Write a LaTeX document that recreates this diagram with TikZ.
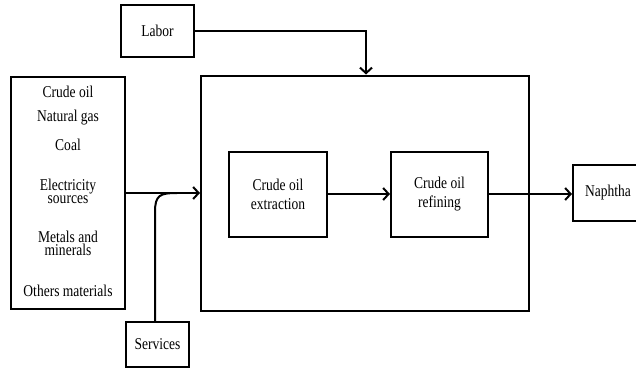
\documentclass[tikz,border=0pt]{standalone}
\usepackage{fontspec}
\setmainfont[FakeStretch=0.82]{Liberation Serif}
\usetikzlibrary{arrows.meta}
\begin{document}
\begin{tikzpicture}[x=1pt,y=-1pt,
  box/.style={draw,line width=2pt,inner sep=0pt,align=center,font=\fontsize{16.5}{19}\selectfont},
  txt/.style={inner sep=0pt,align=center,font=\fontsize{16.5}{13}\selectfont},
  conn/.style={line width=2pt,-{Straight Barb[length=5.5pt,width=12pt,line width=2pt]}}]
\useasboundingbox (0,0) rectangle (636,369);
\node[box,minimum width=73pt,minimum height=52pt] (labor) at (157.5,31) {Labor};
\node[box,minimum width=114pt,minimum height=232pt] (inputs) at (68,193) {};
\node[box,minimum width=328pt,minimum height=235pt] (main) at (365,193) {};
\node[box,minimum width=63pt,minimum height=45pt] (services) at (157.5,344.5) {Services};
\node[box,minimum width=98pt,minimum height=85pt] (extr) at (278,194) {Crude oil\\extraction};
\node[box,minimum width=97pt,minimum height=85pt] (refi) at (439.5,194) {Crude oil\\refining};
\node[box,minimum width=70pt,minimum height=56pt] (naph) at (608,193) {Naphtha};
\node[txt] (t1) at (68,92) {Crude oil};
\node[txt] (t2) at (68,118) {Natural gas};
\node[txt] (t3) at (68,145) {Coal};
\node[txt] (t4) at (68,191) {Electricity\\sources};
\node[txt] (t5) at (68,243) {Metals and\\minerals};
\node[txt] (t6) at (68,291) {Others materials};
\coordinate (lc) at (366,31);
\coordinate (mj) at (177,193);
\draw[conn] (labor.east |- lc) -- (lc) -- (lc |- main.north);
\draw[conn] (inputs.east |- mj) -- (main.west |- mj);
\draw[line width=2pt] (services.north -| 155,0) -- (155,212) .. controls (155,195) and (160,193) .. (mj);
\draw[conn] (extr.east) -- (refi.west);
\draw[conn] (refi.east) -- (naph.west |- refi.east);
\end{tikzpicture}
\end{document}
